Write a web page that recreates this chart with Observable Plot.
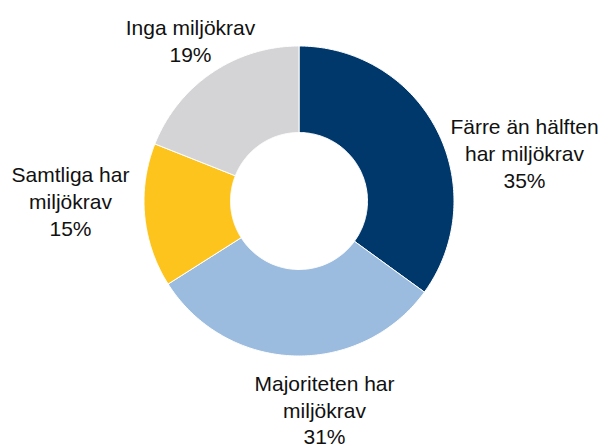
<!DOCTYPE html>
<html>
<head>
<meta charset="utf-8">
<script src="https://cdn.jsdelivr.net/npm/d3@7"></script>
<script src="https://cdn.jsdelivr.net/npm/@observablehq/plot@0.6"></script>
<style>
  html, body { margin: 0; padding: 0; background: #fff; }
</style>
</head>
<body>
<div id="chart"></div>
<script>
// Data
const categories = ["Färre än hälften har miljökrav", "Majoriteten har miljökrav", "Samtliga har miljökrav", "Inga miljökrav"];
const values = [35, 31, 15, 19];
const valueLabels = ["35%", "31%", "15%", "19%"];
const labelLines = [["Färre än hälften", "har miljökrav"], ["Majoriteten har", "miljökrav"], ["Samtliga har", "miljökrav"], ["Inga miljökrav"]];
const colors = ["#00386b", "#9bbbdf", "#fdc41e", "#d4d3d6"];

// Layout
const W = 602, H = 447;
const cx = 298.5, cy = 200.5, R = 155;
const innerR = 68.5 / 155;
// label centres in px
const labelPos = [[524, 152], [324, 408.5], [70, 200], [190, 39]];

const pie = d3.pie().sort(null).value(d => d)(values);
const polys = [];
pie.forEach((p, i) => {
  const n = 120;
  const pts = [];
  for (let k = 0; k <= n; k++) {
    const a = p.startAngle + (p.endAngle - p.startAngle) * k / n;
    pts.push([Math.sin(a), Math.cos(a)]);
  }
  for (let k = n; k >= 0; k--) {
    const a = p.startAngle + (p.endAngle - p.startAngle) * k / n;
    pts.push([innerR * Math.sin(a), innerR * Math.cos(a)]);
  }
  pts.push(pts[0]);
  pts.forEach(([x, y]) => polys.push({cat: categories[i], x, y}));
});

const labels = categories.map((c, i) => ({
  cat: c,
  text: [...labelLines[i], valueLabels[i]].join("\n"),
  x: (labelPos[i][0] - cx) / R,
  y: (cy - labelPos[i][1]) / R
}));

const chart = Plot.plot({
  width: W,
  height: H,
  margin: 0,
  x: {domain: [-cx / R, (W - cx) / R], axis: null},
  y: {domain: [-(H - cy) / R, cy / R], axis: null},
  color: {domain: categories, range: colors},
  style: {fontFamily: "'Liberation Sans', Arial, sans-serif", background: "#fff", overflow: "visible"},
  marks: [
    Plot.line(polys, {x: "x", y: "y", z: "cat", fill: "cat", stroke: "white", strokeWidth: 1, curve: "linear"}),
    Plot.text(labels, {x: "x", y: "y", text: "text", fontSize: 21, lineHeight: 1.28, fill: "#111", textAnchor: "middle", lineAnchor: "middle"})
  ]
});
document.getElementById("chart").appendChild(chart);
</script>
</body>
</html>
